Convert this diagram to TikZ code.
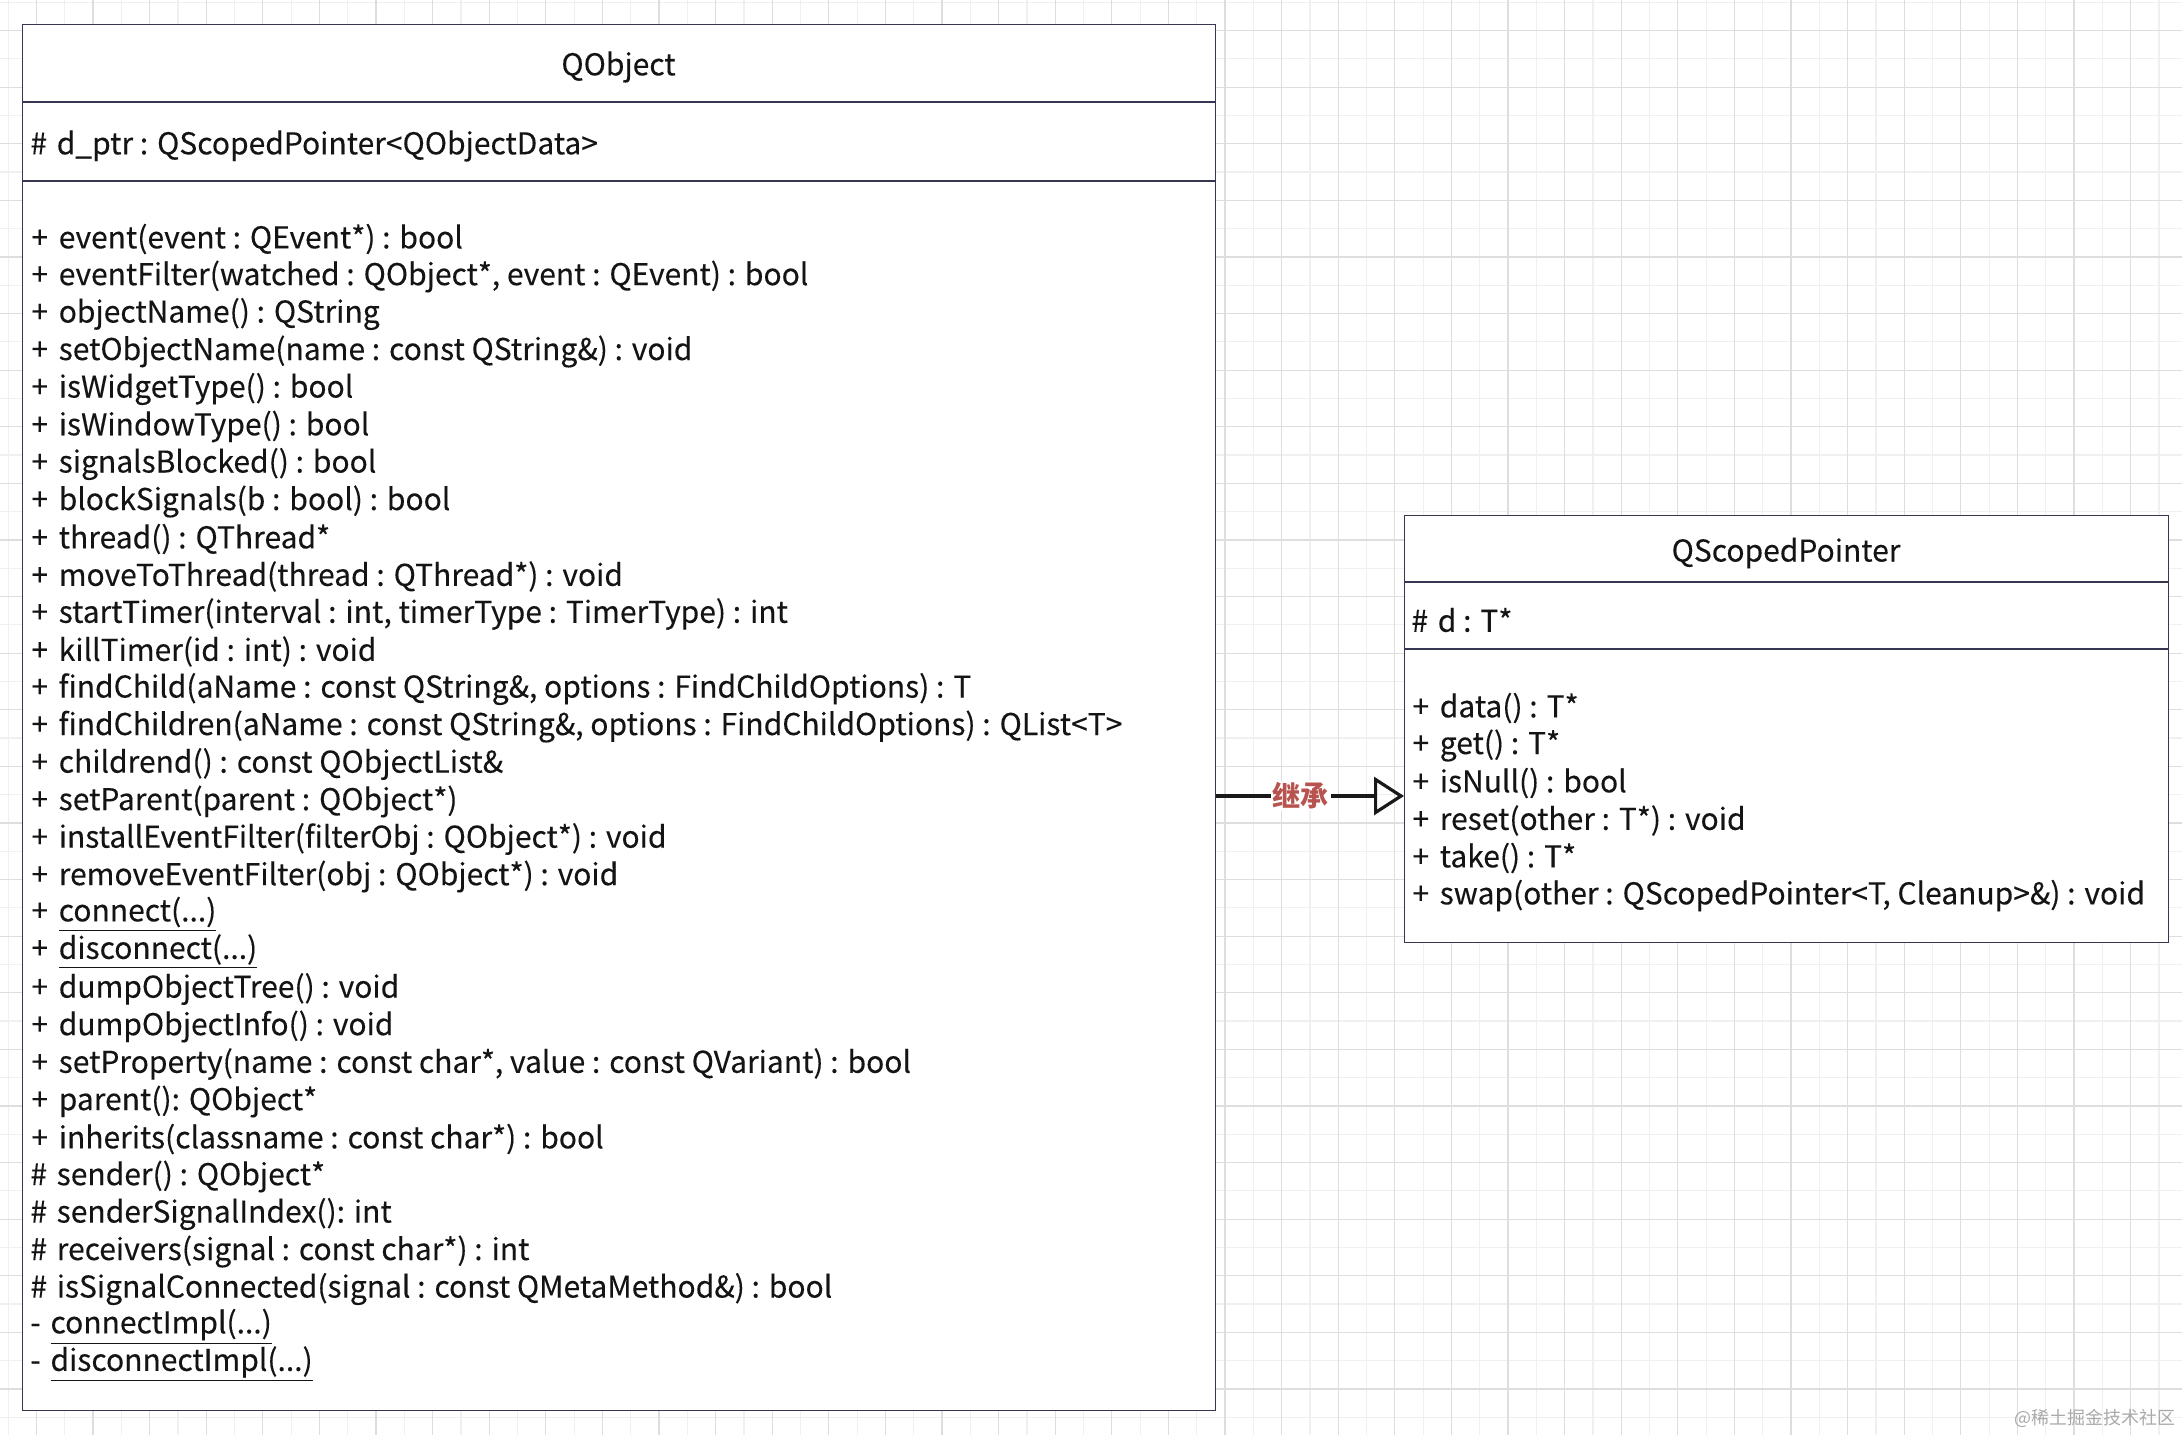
\documentclass[tikz,border=0pt]{standalone}
\usepackage{fontspec}
\setmainfont{Noto Sans CJK SC}
\newfontfamily\mfont{Noto Sans CJK SC}[FakeBold=0.2]
\usetikzlibrary{arrows.meta}
\definecolor{boxc}{RGB}{54,54,80}
\definecolor{txtc}{RGB}{20,20,20}
\definecolor{labc}{RGB}{184,84,80}
\definecolor{gridmin}{RGB}{240,240,240}
\definecolor{gridmaj}{RGB}{222,222,222}
\definecolor{wmc}{RGB}{170,170,170}
\newcommand{\pplus}{+\hspace{2pt} }
\newcommand{\phash}{\#\hspace{1.5pt} }
\newcommand{\pminus}{-\hspace{1.5pt} }
\tikzset{
  classbox/.style={draw=boxc, line width=0.7pt, fill=white, inner sep=0pt, anchor=north west},
  sepline/.style={draw=boxc, line width=0.7pt},
  mtext/.style={anchor=west, inner sep=0pt, text=txtc, font=\mfont\fontsize{15pt}{17pt}\selectfont, yshift=-2pt},
  ttext/.style={anchor=center, inner sep=0pt, text=txtc, font=\mfont\fontsize{15pt}{17pt}\selectfont, yshift=-2pt},
  inherit/.style={line width=1.6pt, draw=black!90, -{Triangle[open, length=15pt, width=19pt, line width=1.6pt]}},
  lab/.style={fill=white, inner sep=1pt, text=labc, font=\fontsize{14pt}{16pt}\selectfont\bfseries},
  wm/.style={anchor=east, inner sep=0pt, text=wmc, font=\fontsize{9pt}{10pt}\selectfont}
}
\begin{document}
\begin{tikzpicture}[x=0.5pt, y=-0.5pt]
\useasboundingbox (0,0) rectangle (2182,1435);
\fill[white] (0,0) rectangle (2182,1435);
% grid
\foreach \gx in {8.1,64.7,...,2182} \draw[gridmin, line width=0.6pt] (\gx,0) -- (\gx,1435);
\foreach \gy in {2.2,58.8,...,1435} \draw[gridmin, line width=0.6pt] (0,\gy) -- (2182,\gy);
\foreach \gx in {36.4,93,...,2182} \draw[gridmaj, line width=0.6pt] (\gx,0) -- (\gx,1435);
\foreach \gy in {30.5,87.1,...,1435} \draw[gridmaj, line width=0.6pt] (0,\gy) -- (2182,\gy);

% QObject class
\node[classbox, minimum width=596.5pt, minimum height=693pt] (qobj) at (22,24) {};
\draw[sepline] (22,102) -- (1215,102);
\draw[sepline] (22,181) -- (1215,181);
\node[ttext] (qobjt) at (618.5,63) {QObject};
\node[mtext] (qobja) at (30,142) {\phash d\_ptr : QScopedPointer<QObjectData>};
\node[mtext] (m1) at (31,235) {\pplus event(event : QEvent*) : bool};
\node[mtext] (m2) at (31,272.5) {\pplus eventFilter(watched : QObject*, event : QEvent) : bool};
\node[mtext] (m3) at (31,310) {\pplus objectName() : QString};
\node[mtext] (m4) at (31,347.5) {\pplus setObjectName(name : const QString\&) : void};
\node[mtext] (m5) at (31,385) {\pplus isWidgetType() : bool};
\node[mtext] (m6) at (31,422.5) {\pplus isWindowType() : bool};
\node[mtext] (m7) at (31,460) {\pplus signalsBlocked() : bool};
\node[mtext] (m8) at (31,497.5) {\pplus blockSignals(b : bool) : bool};
\node[mtext] (m9) at (31,535) {\pplus thread() : QThread*};
\node[mtext] (m10) at (31,572.5) {\pplus moveToThread(thread : QThread*) : void};
\node[mtext] (m11) at (31,610) {\pplus startTimer(interval : int, timerType : TimerType) : int};
\node[mtext] (m12) at (31,647.5) {\pplus killTimer(id : int) : void};
\node[mtext] (m13) at (31,685) {\pplus findChild(aName : const QString\&, options : FindChildOptions) : T};
\node[mtext] (m14) at (31,722.5) {\pplus findChildren(aName : const QString\&, options : FindChildOptions) : QList<T>};
\node[mtext] (m15) at (31,760) {\pplus childrend() : const QObjectList\&};
\node[mtext] (m16) at (31,797.5) {\pplus setParent(parent : QObject*)};
\node[mtext] (m17) at (31,835) {\pplus installEventFilter(filterObj : QObject*) : void};
\node[mtext] (m18) at (31,872.5) {\pplus removeEventFilter(obj : QObject*) : void};
\node[mtext] (m19) at (31,910) {\pplus \underline{connect(...)}};
\node[mtext] (m20) at (31,947.5) {\pplus \underline{disconnect(...)}};
\node[mtext] (m21) at (31,985) {\pplus dumpObjectTree() : void};
\node[mtext] (m22) at (31,1022.5) {\pplus dumpObjectInfo() : void};
\node[mtext] (m23) at (31,1060) {\pplus setProperty(name : const char*, value : const QVariant) : bool};
\node[mtext] (m24) at (31,1097.5) {\pplus parent(): QObject*};
\node[mtext] (m25) at (31,1135) {\pplus inherits(classname : const char*) : bool};
\node[mtext] (m26) at (30,1172.5) {\phash sender() : QObject*};
\node[mtext] (m27) at (30,1210) {\phash senderSignalIndex(): int};
\node[mtext] (m28) at (30,1247.5) {\phash receivers(signal : const char*) : int};
\node[mtext] (m29) at (30,1285) {\phash isSignalConnected(signal : const QMetaMethod\&) : bool};
\node[mtext] (m30) at (30,1322.5) {\pminus \underline{connectImpl(...)}};
\node[mtext] (m31) at (30,1360) {\pminus \underline{disconnectImpl(...)}};

% QScopedPointer class
\node[classbox, minimum width=382pt, minimum height=213.5pt] (qsp) at (1404,515) {};
\draw[sepline] (1404,582) -- (2168,582);
\draw[sepline] (1404,649) -- (2168,649);
\node[ttext] (qspt) at (1786,549) {QScopedPointer};
\node[mtext] (qspa) at (1411,616) {\phash d : T*};
\node[mtext] (s1) at (1412,704) {\pplus data() : T*};
\node[mtext] (s2) at (1412,741.5) {\pplus get() : T*};
\node[mtext] (s3) at (1412,779) {\pplus isNull() : bool};
\node[mtext] (s4) at (1412,816.5) {\pplus reset(other : T*) : void};
\node[mtext] (s5) at (1412,854) {\pplus take() : T*};
\node[mtext] (s6) at (1412,891.5) {\pplus swap(other : QScopedPointer<T, Cleanup>\&) : void};

% inheritance
\coordinate (arrowy) at (0,796);
\draw[inherit] (qobj.east |- arrowy) -- node[lab, pos=0.45] (inhlab) {继承} (qsp.west |- arrowy);

% watermark
\node[wm] (wmark) at (2176,1418) {@稀土掘金技术社区};
\end{tikzpicture}
\end{document}
